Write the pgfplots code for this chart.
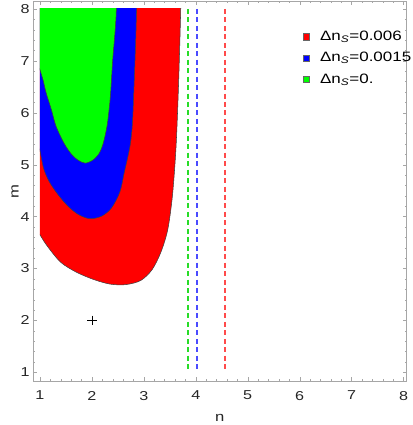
\documentclass[border=0pt]{standalone}
\usepackage{fontspec}
\setmainfont{Liberation Sans}[FakeStretch=1.25]
\usepackage{pgfplots}
\pgfplotsset{compat=1.18}

\definecolor{limitgreen}{RGB}{40,220,40}
\definecolor{limitblue}{RGB}{75,75,255}
\definecolor{limitred}{RGB}{255,75,75}

\begin{document}
\begin{tikzpicture}
\begin{axis}[
  scale only axis,
  width=280.5pt, height=285pt,
  xmin=0.865, xmax=8.058, ymin=0.833, ymax=8.144,
  xtick={1,...,8}, ytick={1,...,8},
  minor tick num=4,
  major tick length=3pt, minor tick length=1.5pt,
  axis line style={gray!70},
  tick style={gray!70},
  tick label style={font=\fontsize{9.7}{11}\selectfont, text=black!85},
  /pgf/number format/assume math mode=true,
  xticklabel style={yshift=-4pt},
  yticklabel style={xshift=1pt},
  xlabel={n}, ylabel={m},
  label style={font=\fontsize{10}{12}\selectfont, text=black!85},
  xlabel style={at={(axis description cs:0.5,-0.096)}, anchor=center},
  ylabel style={at={(axis description cs:-0.048,0.5)}, anchor=center},
  legend style={at={(axis description cs:0.712,0.937)}, anchor=north west,
    draw=none, fill=none, font=\fontsize{10.2}{12}\selectfont,
    row sep=3.4pt, column sep=6pt},
  legend cell align=left,
  region/.style={draw=black!75, line width=0.4pt, smooth, forget plot},
  limit/.style={line width=1.3pt, dash pattern=on 3.75pt off 2.6pt, forget plot},
]
% dashed limits
\addplot[limit, draw=limitgreen, line width=1.5pt] coordinates {(3.845,8) (3.845,1)};
\addplot[limit, draw=limitblue] coordinates {(4.02,8) (4.02,1)};
\addplot[limit, draw=limitred] coordinates {(4.56,8) (4.56,1)};
% point
\addplot[only marks, mark=+, mark size=3.6pt, black, line width=0.6pt, forget plot]
  coordinates {(2,2)};
\clip (axis cs:1,1) rectangle (axis cs:8,8);
% red region  (Delta n_S = 0.006)
\addplot[region, fill=red] coordinates {
  (3.73,9) (3.71,8) (3.67,6.6) (3.62,5.35) (3.55,4.4) (3.46,3.75)
  (3.33,3.32) (3.16,2.98) (2.94,2.77) (2.65,2.69) (2.35,2.70) (2.03,2.79)
  (1.70,2.93) (1.40,3.12) (1.15,3.42) (1,3.65) (0.85,3.92) (0.5,9)};
% blue region (Delta n_S = 0.0015)
\addplot[region, fill=blue] coordinates {
  (2.88,9) (2.86,8) (2.84,7.3) (2.81,6.5) (2.78,5.8) (2.74,5.4) (2.68,5.1)
  (2.62,4.84) (2.54,4.48) (2.38,4.17) (2.19,4.01) (1.96,3.96) (1.74,4.04)
  (1.54,4.20) (1.35,4.42) (1.18,4.67) (1.07,4.93) (1.0,5.28) (0.95,5.6)
  (0.5,9)};
% green region (Delta n_S = 0)
\addplot[region, fill=green] coordinates {
  (2.48,9) (2.47,8) (2.44,7.5) (2.40,7.02) (2.36,6.38) (2.33,6.06) (2.29,5.74)
  (2.22,5.42) (2.14,5.22) (2.02,5.09) (1.87,5.03) (1.73,5.09) (1.60,5.21)
  (1.46,5.42) (1.31,5.74) (1.22,6.06) (1.12,6.38) (1.06,6.63) (1,6.83)
  (0.93,7.1) (0.5,9)};
% legend
\addlegendimage{only marks, mark=square*, mark size=2.3pt, mark options={fill=red, draw=black!60, line width=0.3pt}}
\addlegendentry{Δn\textsubscript{\textit{S}}=0.006}
\addlegendimage{only marks, mark=square*, mark size=2.3pt, mark options={fill=blue, draw=black!60, line width=0.3pt}}
\addlegendentry{Δn\textsubscript{\textit{S}}=0.0015}
\addlegendimage{only marks, mark=square*, mark size=2.3pt, mark options={fill=green, draw=black!60, line width=0.3pt}}
\addlegendentry{Δn\textsubscript{\textit{S}}=0.}
\end{axis}
\pgfresetboundingbox
\path[use as bounding box] ([xshift=-24.75pt,yshift=-33pt]current axis.south west)
  rectangle ([xshift=4.5pt,yshift=1.1pt]current axis.north east);
\end{tikzpicture}
\end{document}
